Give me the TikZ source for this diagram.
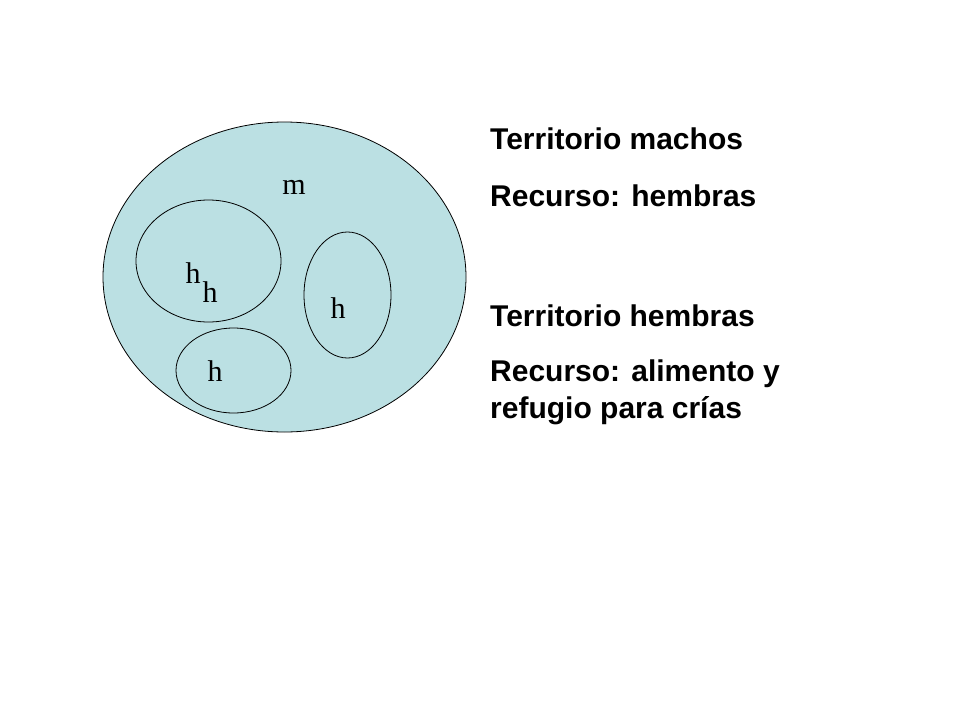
\documentclass[tikz,border=0pt]{standalone}
\usepackage{fontspec}
\setmainfont{Liberation Serif}
\newfontfamily\labelfont{Liberation Sans}
\usetikzlibrary{shapes.geometric, positioning}
\definecolor{territorio}{RGB}{187,224,227}

\begin{document}
\begin{tikzpicture}[x=1pt, y=-1pt,
		zona/.style={draw, ellipse, inner sep=0pt, line width=0.8pt},
		letra/.style={font=\fontsize{30}{34}\selectfont, inner sep=0pt},
		texto/.style={font=\labelfont\bfseries\fontsize{30}{37}\selectfont, anchor=west, inner sep=0pt, align=left}]
			\useasboundingbox (0,0) rectangle (960,720);
			\node[zona, fill=territorio, minimum width=363pt, minimum height=310pt] (macho) at (284.5,277) {};
			\node[zona, minimum width=145pt, minimum height=122pt] (hembraA) at (208.5,261) {};
			\node[zona, minimum width=87pt, minimum height=126pt] (hembraB) at (347.5,295) {};
			\node[zona, minimum width=115pt, minimum height=85pt] (hembraC) at (233.5,370.5) {};
			\node[letra] (m) at (294,187) {m};
			\node[letra] (h1) at (193,273) {h};
			\node[letra] (h2) at (210,292) {h};
			\node[letra] (h3) at (338,308) {h};
			\node[letra] (h4) at (215,371) {h};
			\node[texto] (tm) at (490,139) {Territorio machos};
			\node[texto] (rm) at (490,196) {Recurso: hembras};
			\node[texto] (th) at (490,316) {Territorio hembras};
			\node[texto, anchor=north west] (rh) at (490,360) {Recurso: alimento y\\refugio para crías};
		\end{tikzpicture}
\end{document}
